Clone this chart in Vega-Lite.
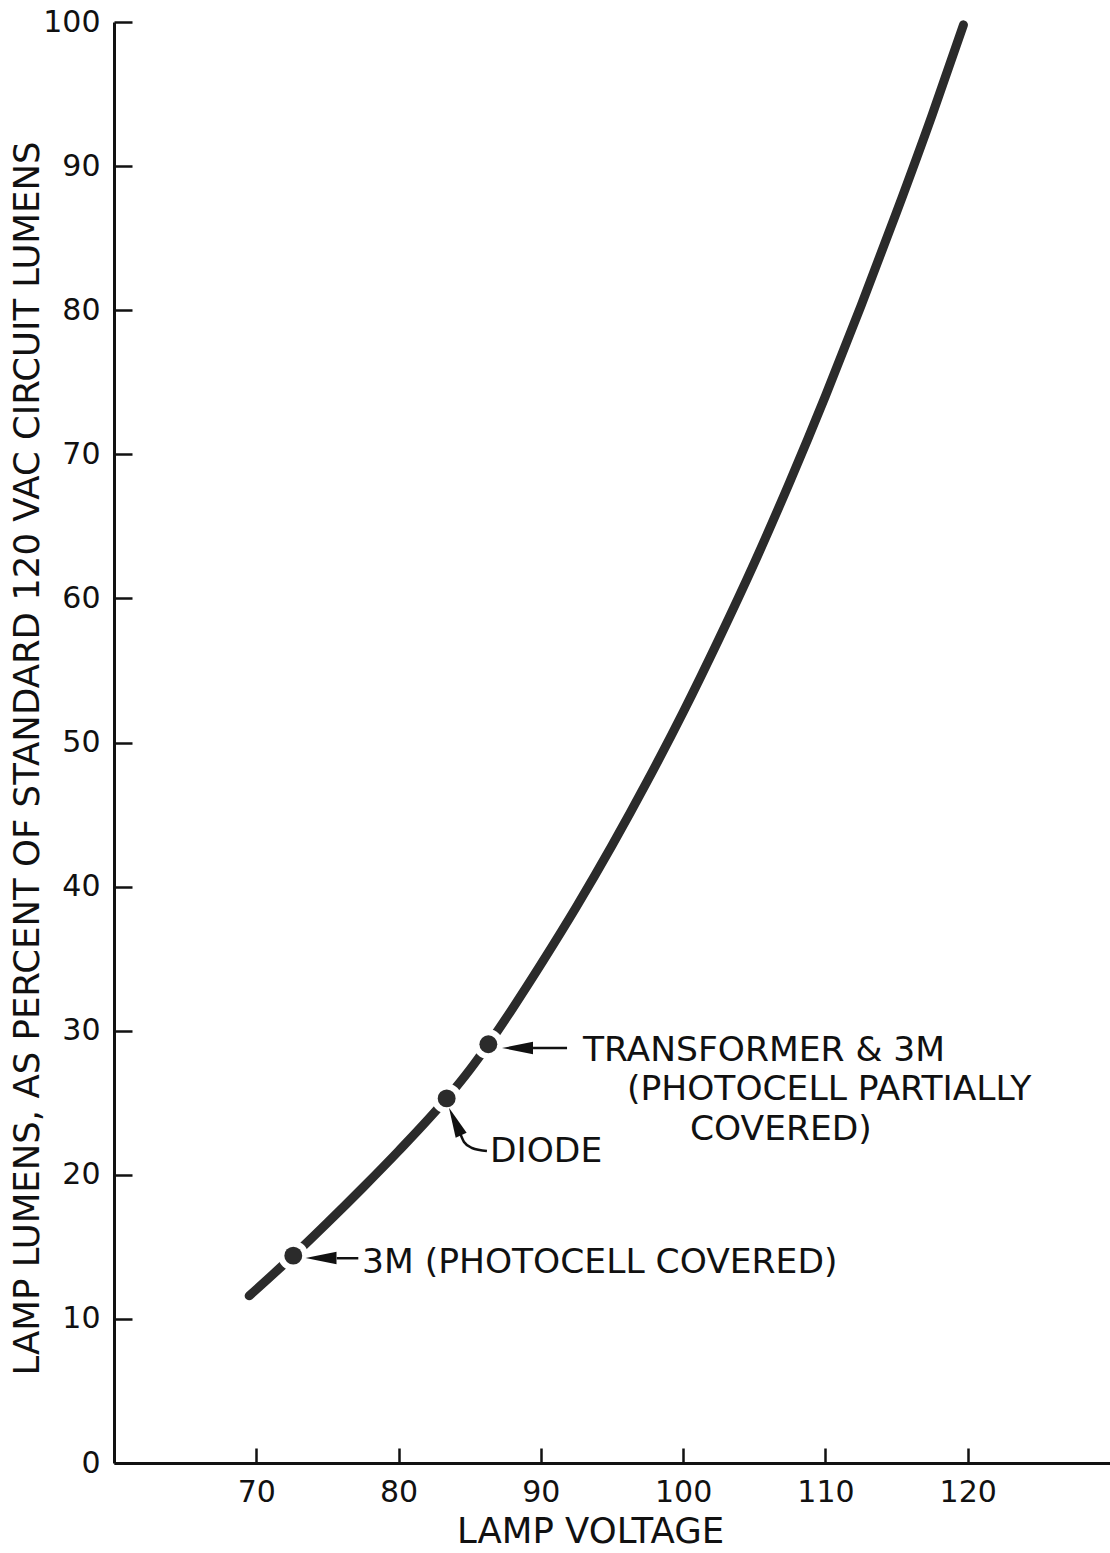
{
  "$schema": "https://vega.github.io/schema/vega-lite/v6.json",
  "width": 996,
  "height": 1441,
  "autosize": {"type": "none"},
  "padding": {"left": 114, "top": 22, "right": 0, "bottom": 90},
  "background": "white",
  "config": {
    "view": {"stroke": null},
    "font": "DejaVu Sans",
    "axis": {
      "grid": false,
      "labelFont": "DejaVu Sans",
      "titleFont": "DejaVu Sans",
      "labelColor": "#111",
      "titleColor": "#111",
      "tickColor": "#111",
      "domainColor": "#111",
      "domainWidth": 3,
      "tickWidth": 2.5,
      "labelFontSize": 30,
      "titleFontSize": 35.5,
      "titleFontWeight": "normal",
      "labelFlush": false,
      "labelOverlap": false
    }
  },
  "datasets": {
    "curve": [
      {"voltage": 69.5, "lumens": 11.6},
      {"voltage": 72.6, "lumens": 14.39},
      {"voltage": 75.0, "lumens": 16.67},
      {"voltage": 77.5, "lumens": 19.12},
      {"voltage": 80.0, "lumens": 21.65},
      {"voltage": 83.38, "lumens": 25.3},
      {"voltage": 85.0, "lumens": 27.28},
      {"voltage": 86.31, "lumens": 29.06},
      {"voltage": 88.0, "lumens": 31.53},
      {"voltage": 90.0, "lumens": 34.6},
      {"voltage": 92.5, "lumens": 38.6},
      {"voltage": 95.0, "lumens": 42.85},
      {"voltage": 97.5, "lumens": 47.35},
      {"voltage": 100.0, "lumens": 52.1},
      {"voltage": 102.5, "lumens": 57.15},
      {"voltage": 105.0, "lumens": 62.45},
      {"voltage": 107.5, "lumens": 68.1},
      {"voltage": 110.0, "lumens": 74.05},
      {"voltage": 112.5, "lumens": 80.3},
      {"voltage": 115.0, "lumens": 86.8},
      {"voltage": 117.5, "lumens": 93.55},
      {"voltage": 119.7, "lumens": 99.8}
    ],
    "dots": [
      {"voltage": 72.6, "lumens": 14.39, "source": "3M (photocell covered)"},
      {"voltage": 83.38, "lumens": 25.3, "source": "Diode"},
      {"voltage": 86.31, "lumens": 29.06, "source": "Transformer & 3M"}
    ],
    "notes": [
      {"label": "TRANSFORMER & 3M", "voltage": 92.96, "lumens": 27.9},
      {"label": "(PHOTOCELL PARTIALLY", "voltage": 96.05, "lumens": 25.19},
      {"label": "COVERED)", "voltage": 100.48, "lumens": 22.41},
      {"label": "DIODE", "voltage": 86.42, "lumens": 20.89},
      {"label": "3M (PHOTOCELL COVERED)", "voltage": 77.43, "lumens": 13.19}
    ],
    "stems": [
      {"voltage": 89.45, "voltage2": 91.84, "lumens": 28.8},
      {"voltage": 75.65, "voltage2": 77.17, "lumens": 14.21}
    ],
    "heads": [
      {"voltage": 88.36, "lumens": 28.8},
      {"voltage": 74.55, "lumens": 14.23}
    ],
    "diodeStem": [
      {"voltage": 84.32, "lumens": 22.9},
      {"voltage": 84.6, "lumens": 22.28},
      {"voltage": 85.16, "lumens": 21.86},
      {"voltage": 86.21, "lumens": 21.65}
    ],
    "diodeHead": [
      {"voltage": 83.97, "lumens": 23.7}
    ]
  },
  "layer": [
    {
      "data": {"name": "curve"},
      "mark": {"type": "line", "interpolate": "monotone", "strokeWidth": 9, "color": "#2b2b2b", "strokeCap": "round"},
      "encoding": {
        "x": {
          "field": "voltage", "type": "quantitative",
          "scale": {"domain": [60, 130], "nice": false, "zero": false},
          "axis": {
            "title": "LAMP VOLTAGE",
            "values": [70, 80, 90, 100, 110, 120],
            "tickSize": -15,
            "labelPadding": 29,
            "titleX": 476,
            "titleY": 79,
            "titleBaseline": "alphabetic",
            "titleAlign": "center"
          }
        },
        "y": {
          "field": "lumens", "type": "quantitative",
          "scale": {"domain": [0, 100], "nice": false},
          "axis": {
            "title": "LAMP LUMENS, AS PERCENT OF STANDARD 120 VAC CIRCUIT LUMENS",
            "values": [0, 10, 20, 30, 40, 50, 60, 70, 80, 90, 100],
            "tickSize": -18,
            "labelPadding": 32,
            "titleAngle": -90,
            "titleX": -76,
            "titleY": 736,
            "titleBaseline": "alphabetic",
            "titleAlign": "center"
          }
        }
      }
    },
    {
      "mark": {"type": "rule", "strokeWidth": 3, "color": "#111"},
      "encoding": {"y": {"datum": 100}}
    },
    {
      "data": {"name": "dots"},
      "mark": {"type": "point", "filled": true, "color": "white", "opacity": 1, "size": 900},
      "encoding": {
        "x": {"field": "voltage", "type": "quantitative"},
        "y": {"field": "lumens", "type": "quantitative"}
      }
    },
    {
      "data": {"name": "dots"},
      "mark": {"type": "point", "filled": true, "color": "#2b2b2b", "opacity": 1, "size": 320},
      "encoding": {
        "x": {"field": "voltage", "type": "quantitative"},
        "y": {"field": "lumens", "type": "quantitative"}
      }
    },
    {
      "data": {"name": "stems"},
      "mark": {"type": "rule", "strokeWidth": 2.5, "color": "#111"},
      "encoding": {
        "x": {"field": "voltage", "type": "quantitative"},
        "x2": {"field": "voltage2"},
        "y": {"field": "lumens", "type": "quantitative"}
      }
    },
    {
      "data": {"name": "heads"},
      "mark": {"type": "point", "filled": true, "color": "#111", "opacity": 1, "size": 961, "shape": "M -1 0 L 1 -0.4 L 1 0.4 Z"},
      "encoding": {
        "x": {"field": "voltage", "type": "quantitative"},
        "y": {"field": "lumens", "type": "quantitative"}
      }
    },
    {
      "data": {"name": "diodeStem"},
      "mark": {"type": "line", "interpolate": "monotone", "strokeWidth": 2.5, "color": "#111"},
      "encoding": {
        "x": {"field": "voltage", "type": "quantitative"},
        "y": {"field": "lumens", "type": "quantitative"}
      }
    },
    {
      "data": {"name": "diodeHead"},
      "mark": {"type": "point", "filled": true, "color": "#111", "opacity": 1, "size": 900, "angle": 66, "shape": "M -1 0 L 1 -0.4 L 1 0.4 Z"},
      "encoding": {
        "x": {"field": "voltage", "type": "quantitative"},
        "y": {"field": "lumens", "type": "quantitative"}
      }
    },
    {
      "data": {"name": "notes"},
      "mark": {"type": "text", "align": "left", "baseline": "alphabetic", "fontSize": 34.5, "font": "DejaVu Sans", "color": "#111"},
      "encoding": {
        "x": {"field": "voltage", "type": "quantitative"},
        "y": {"field": "lumens", "type": "quantitative"},
        "text": {"field": "label"}
      }
    }
  ]
}
